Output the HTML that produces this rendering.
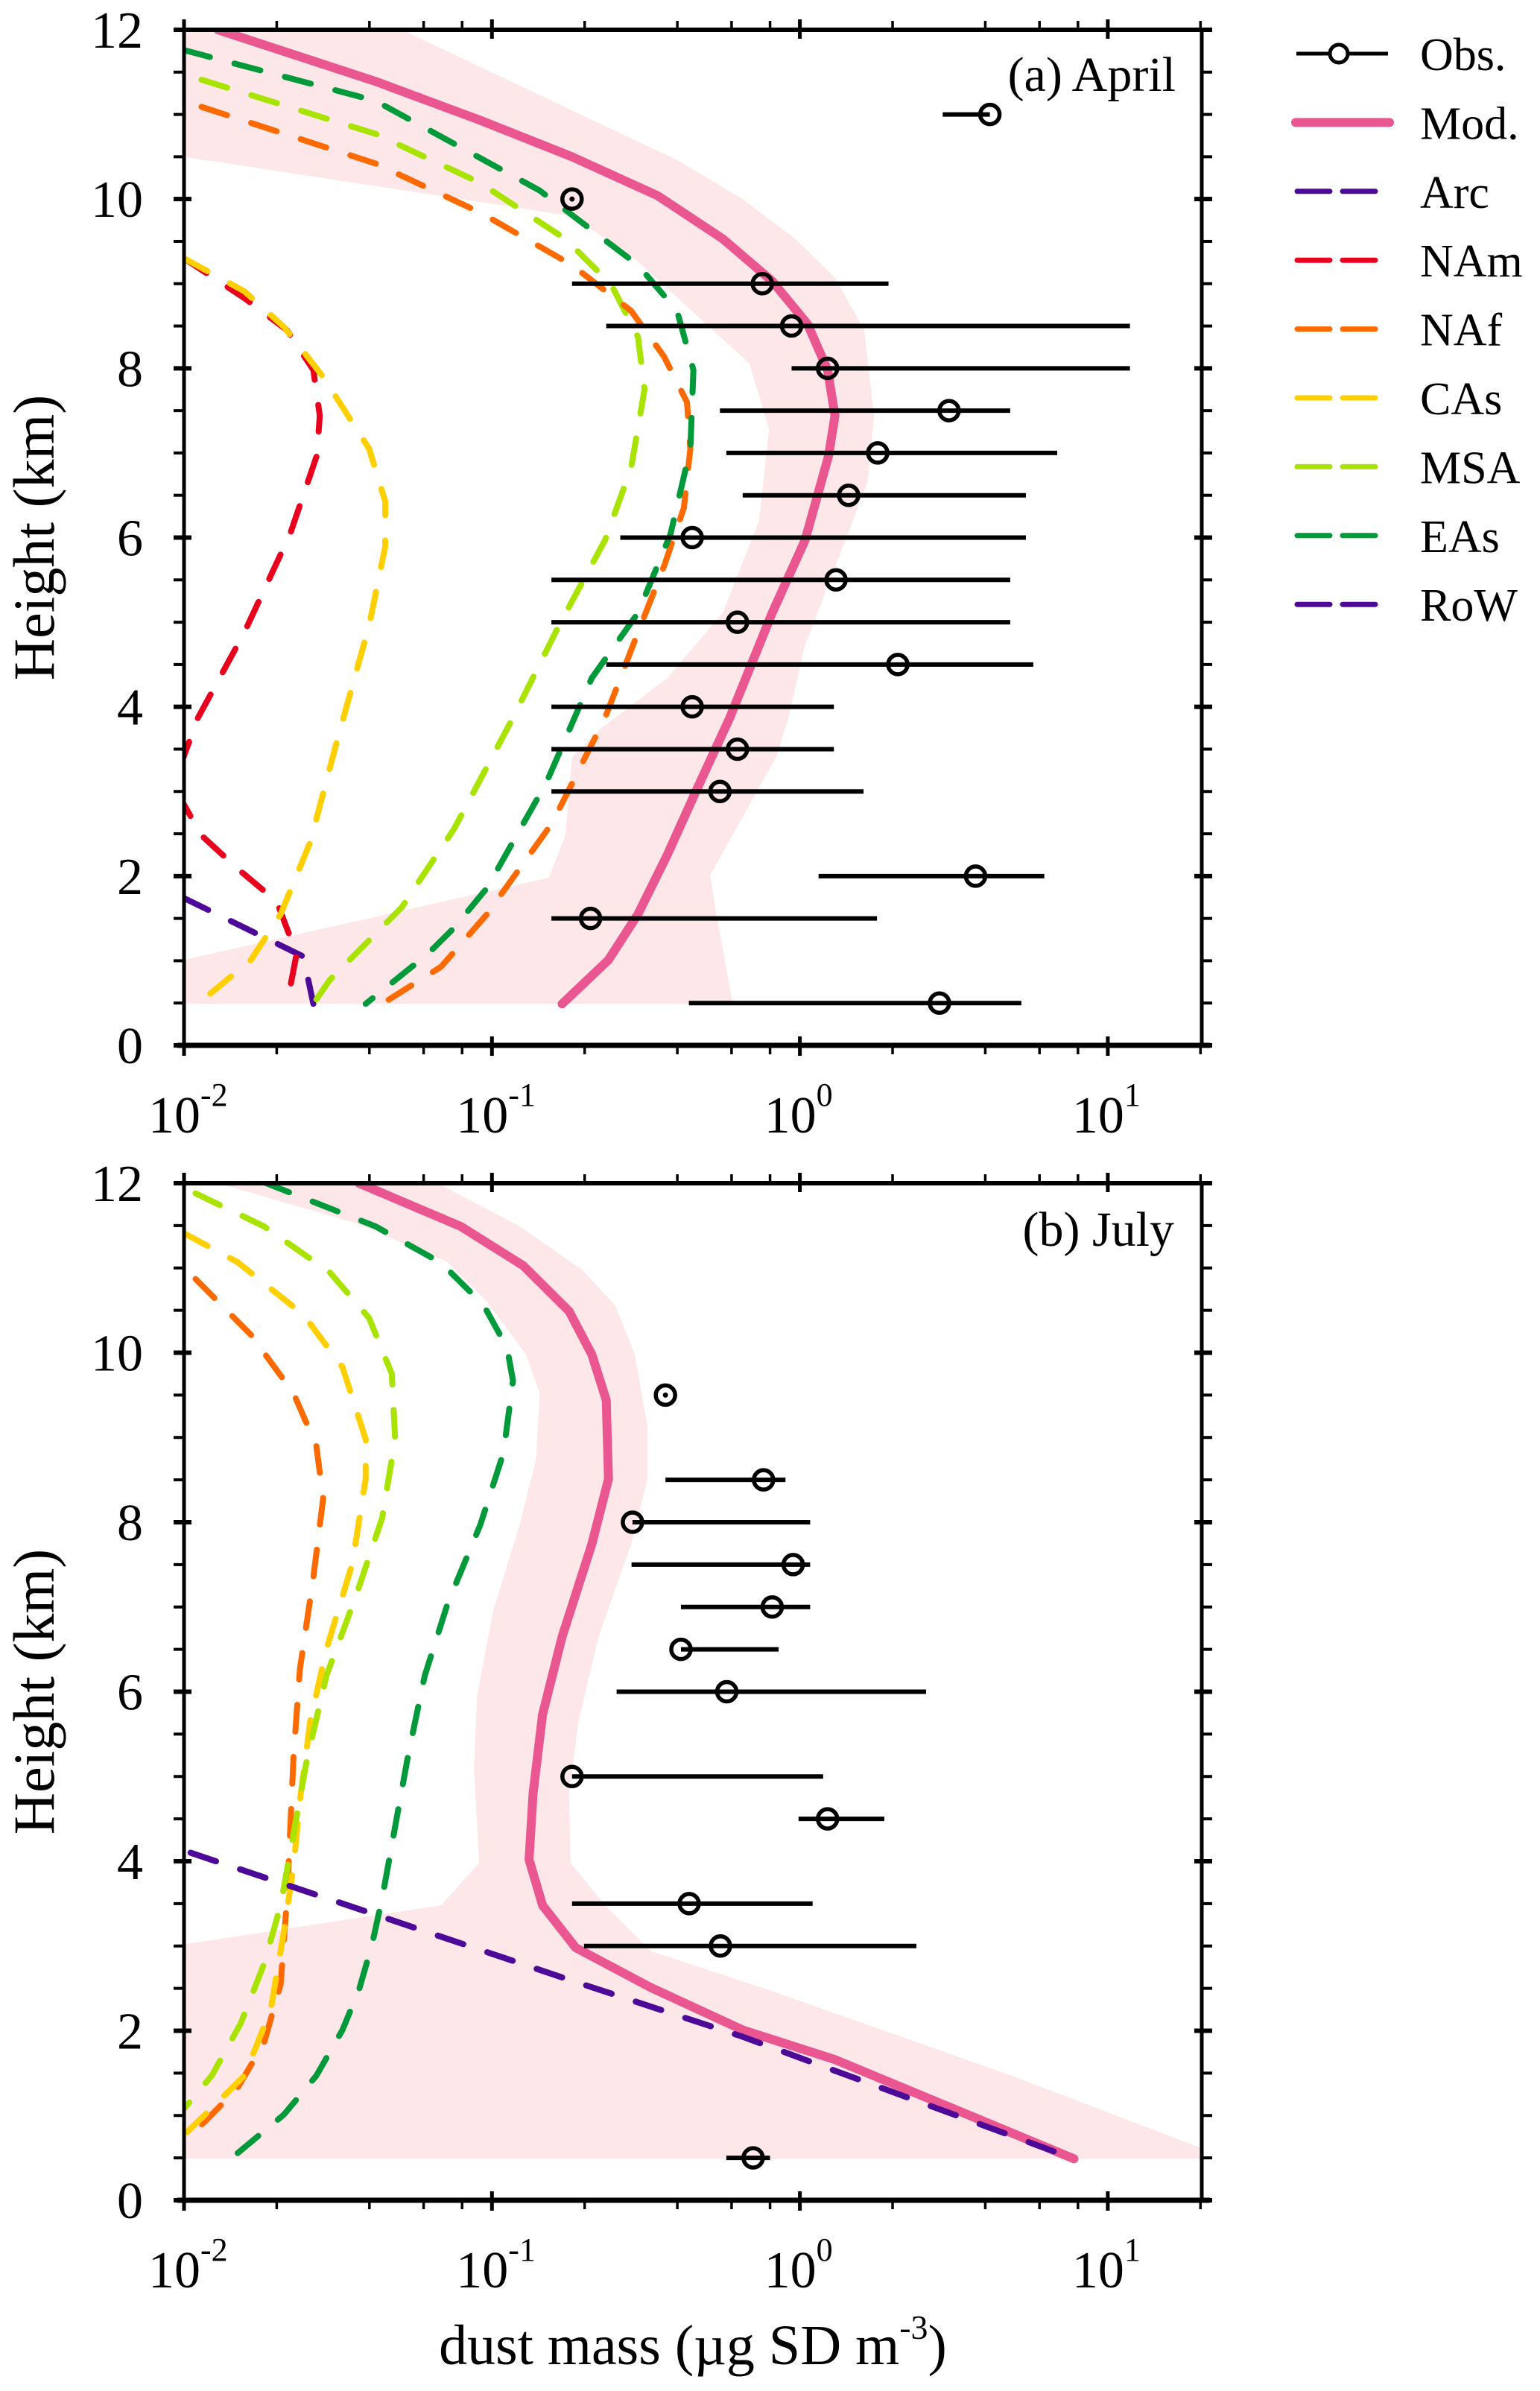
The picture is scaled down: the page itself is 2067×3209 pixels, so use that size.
<!DOCTYPE html>
<html><head><meta charset="utf-8"><style>
html,body{margin:0;padding:0;background:#fff}
svg{display:block}
text{font-family:"Liberation Serif",serif;fill:#000}
</style></head><body>
<svg id="chart" width="2067" height="3209" viewBox="0 0 2067 3209" xmlns="http://www.w3.org/2000/svg"></svg>
<script>
// ---------- Panel (a) April data ----------
const aModH=[12,11.39,10.93,10.5,10.04,9.53,9.03,8.52,7.98,7.44,6.97,5.97,5.11,3.87,3.02,2.25,1.55,1.01,0.49];
const aModV=[0.0129,0.0419,0.0917,0.182,0.345,0.562,0.813,1.06,1.23,1.30,1.24,1.04,0.813,0.592,0.462,0.371,0.298,0.239,0.169];
const aBandLoH=[12,10.5,9.8,9.26,8.06,7.28,6.2,5.11,4.34,3.72,3.4,2.48,1.98,1.01,0.49];
const aBandLoV=[0.01,0.01,0.182,0.298,0.685,0.794,0.737,0.562,0.371,0.222,0.182,0.173,0.153,0.01,0.01];
const aBandHiH=[12,10.46,10,9.53,9.07,8.45,7.44,6.66,6.04,4.73,3.87,3.41,2.56,2.01,1.55,0.49];
const aBandHiV=[0.0509,0.399,0.652,0.966,1.30,1.62,1.74,1.66,1.43,1.04,0.918,0.838,0.621,0.511,0.536,0.605];
const aArcH=[1.74,1.05,0.49];
const aArcV=[0.01,0.0244,0.0263];
const aNAmH=[9.3,8.83,8.45,7.98,7.44,6.97,6.04,4.88,3.87,3.2,2.9,2.48,2.09,1.7,1.08,0.49];
const aNAmV=[0.01,0.0157,0.0216,0.0263,0.0276,0.0270,0.0221,0.0157,0.0111,0.0095,0.0098,0.0114,0.0149,0.0200,0.0232,0.0216];
const aNAfH=[11.09,10.42,9.84,9.22,8.68,8.14,7.6,7.05,6.35,5.66,4.88,3.87,2.63,1.55,0.93,0.49];
const aNAfV=[0.0114,0.0419,0.0917,0.182,0.283,0.362,0.430,0.441,0.420,0.362,0.298,0.233,0.157,0.0964,0.0684,0.0440];
const aCAsH=[9.3,8.91,8.49,7.9,7.05,6.43,5.89,4.96,3.56,2.4,1.55,1.01,0.49];
const aCAsV=[0.01,0.0157,0.0211,0.0283,0.0399,0.0450,0.0450,0.0399,0.0312,0.0257,0.0206,0.0165,0.0111];
const aMSAH=[11.41,10.77,10.19,9.53,8.99,8.37,7.75,6.82,5.97,4.96,3.87,2.56,1.63,0.77,0.49];
const aMSAV=[0.0114,0.0419,0.0917,0.173,0.244,0.298,0.313,0.283,0.233,0.165,0.117,0.0754,0.0509,0.0297,0.0263];
const aEAsH=[11.76,11.16,10.1,9.22,8.68,7.98,7.05,6.04,5.11,4.34,3.1,1.86,1.39,1.08,0.49];
const aEAsV=[0.01,0.0419,0.143,0.298,0.399,0.451,0.441,0.380,0.298,0.211,0.150,0.0964,0.0754,0.0619,0.0389];
const aObsH=[11,10,9,8.5,8,7.5,7,6.5,6,5.5,5,4.5,4,3.5,3,2,1.5,0.5];
const aObsV=[4.14,0.182,0.755,0.94,1.23,3.05,1.79,1.44,0.447,1.31,0.627,2.08,0.447,0.627,0.55,3.72,0.209,2.84];
const aObsLo=[2.91,null,0.182,0.235,0.94,0.55,0.577,0.652,0.261,0.156,0.156,0.235,0.156,0.156,0.156,1.15,0.156,0.436];
const aObsHi=[4.14,null,1.94,11.8,11.8,4.82,6.85,5.42,5.42,4.82,4.82,5.73,1.29,1.29,1.61,6.22,1.78,5.24];

// ---------- Panel (b) July data ----------
const bModH=[12,11.49,11.03,10.49,9.98,9.44,8.51,7.74,6.65,5.73,4.8,4.02,3.48,2.98,2.51,2.01,1.66,0.49];
const bModV=[0.0370,0.0792,0.126,0.178,0.211,0.235,0.239,0.211,0.169,0.146,0.136,0.132,0.146,0.187,0.328,0.652,1.30,7.76];
const bBandLoH=[12,11.53,11.07,10.6,9.98,9.52,8.74,7.97,6.96,5.96,5.11,3.98,3.48,3.02,0.49];
const bBandLoV=[0.0129,0.0361,0.0718,0.0964,0.129,0.143,0.139,0.123,0.101,0.0895,0.0874,0.0908,0.0684,0.01,0.01];
const bBandHiH=[12,11.49,10.98,10.56,9.98,9.13,8.51,7.74,6.65,5.65,4.8,3.98,3.48,2.94,2.48,1.47,0.62,0.49];
const bBandHiV=[0.0667,0.123,0.196,0.251,0.291,0.320,0.320,0.283,0.222,0.191,0.178,0.180,0.233,0.328,0.794,4.87,20,20];
const bArcH=[4.1,3.37,2.59,1.93,0.49];
const bArcV=[0.0105,0.0419,0.182,0.652,7.76];
const bNAfH=[10.87,10.21,9.52,8.9,8.28,7.35,6.27,5.26,4.33,3.56,2.55,1.86,1.32,0.93,0.7];
const bNAfV=[0.0109,0.0165,0.0227,0.0269,0.0283,0.0263,0.0238,0.0227,0.0221,0.0216,0.0206,0.0182,0.0149,0.0117,0.01];
const bCAsH=[11.41,11.07,10.45,9.83,8.98,8.51,7.51,6.5,5.65,4.72,3.95,3.17,2.24,1.47,1.01,0.77];
const bCAsV=[0.01,0.0149,0.0244,0.0327,0.0389,0.0389,0.0352,0.0290,0.0257,0.0238,0.0227,0.0211,0.0191,0.0157,0.0117,0.01];
const bMSAH=[11.88,11.49,10.95,10.41,9.75,8.98,8.05,7.12,6.19,5.18,4.33,3.48,2.79,2.09,1.47,1.08];
const bMSAV=[0.0109,0.0182,0.0297,0.0399,0.0473,0.0485,0.0440,0.0361,0.0290,0.0250,0.0227,0.0206,0.0182,0.0153,0.0123,0.0100];
const bEAsH=[12.01,11.49,11.06,10.56,10.06,9.67,8.82,7.97,7.04,6.19,5.26,4.41,3.56,3.02,2.48,2.01,1.47,1.01,0.49];
const bEAsV=[0.0182,0.0419,0.0684,0.0940,0.112,0.117,0.109,0.0917,0.0718,0.0605,0.0535,0.0485,0.0440,0.0408,0.0370,0.0327,0.0269,0.0211,0.0142];
const bObsH=[9.5,8.5,8,7.5,7,6.5,6,5,4.5,3.5,3,0.5];
const bObsV=[0.366,0.762,0.286,0.951,0.813,0.411,0.579,0.182,1.23,0.437,0.552,0.705];
const bObsLo=[null,0.366,0.286,0.284,0.411,0.411,0.254,0.182,0.99,0.182,0.199,0.577];
const bObsHi=[null,0.898,1.08,1.08,1.08,0.853,2.57,1.19,1.88,1.10,2.39,0.80];

const xTickExp=[-2,-1,0,1];
const yTickLabels=[0,2,4,6,8,10,12];

const NS='http://www.w3.org/2000/svg';
const svg=document.getElementById('chart');
const X0=247, DEC=413.3, XR=1613;
function xs(v){return X0+(Math.log10(v)+2)*DEC;}
const panels=[
 {key:'a',top:40,bot:1403,title:'(a) April',tx:1578,ty:122},
 {key:'b',top:1588,bot:2953,title:'(b) July',tx:1576,ty:1672}
];
function mk(tag,attrs,parent){const e=document.createElementNS(NS,tag);for(const k in attrs)e.setAttribute(k,attrs[k]);(parent||svg).appendChild(e);return e;}
const COL={Arc:'#4d0a99',NAm:'#e8001c',NAf:'#ff6a00',CAs:'#ffcf00',MSA:'#a8e400',EAs:'#009a3a',RoW:'#4d0a99',Mod:'#ea5690',band:'#fde7e8'};

panels.forEach((p,pi)=>{
 const ys=h=>p.bot-h*(p.bot-p.top)/12;
 const g=mk('g',{});
 
 
 const cp=mk('clipPath',{id:'clip'+p.key},g);
 mk('rect',{x:X0,y:p.top,width:XR-X0,height:p.bot-p.top},cp);
 const plot=mk('g',{'clip-path':'url(#clip'+p.key+')'},g);
 const D=p.key==='a'?{
   band:[aBandLoH,aBandLoV,aBandHiH,aBandHiV],mod:[aModH,aModV],
   lines:[['Arc',aArcH,aArcV],['NAm',aNAmH,aNAmV],['CAs',aCAsH,aCAsV],['MSA',aMSAH,aMSAV],['NAf',aNAfH,aNAfV],['EAs',aEAsH,aEAsV]],
   obs:[aObsH,aObsV,aObsLo,aObsHi]}:{
   band:[bBandLoH,bBandLoV,bBandHiH,bBandHiV],mod:[bModH,bModV],
   lines:[['NAf',bNAfH,bNAfV],['CAs',bCAsH,bCAsV],['MSA',bMSAH,bMSAV],['EAs',bEAsH,bEAsV],['Arc',bArcH,bArcV]],
   obs:[bObsH,bObsV,bObsLo,bObsHi]};
 // band
 let pts=[];
 for(let i=0;i<D.band[0].length;i++)pts.push(xs(D.band[1][i]).toFixed(1)+','+ys(D.band[0][i]).toFixed(1));
 for(let i=D.band[2].length-1;i>=0;i--)pts.push(xs(D.band[3][i]).toFixed(1)+','+ys(D.band[2][i]).toFixed(1));
 const band=mk('polygon',{points:pts.join(' '),fill:COL.band},plot);
 
 
 // dashed source lines
 D.lines.forEach(([nm,H,V])=>{
   const d=H.map((h,i)=>(i?'L':'M')+xs(V[i]).toFixed(1)+','+ys(h).toFixed(1)).join('');
   const e=mk('path',{d:d,fill:'none',stroke:COL[nm],'stroke-width':8,'stroke-dasharray':'36 34','stroke-linecap':'round','stroke-linejoin':'round'},plot);
   
   
 });
 // model line
 const md=D.mod[0].map((h,i)=>(i?'L':'M')+xs(D.mod[1][i]).toFixed(1)+','+ys(h).toFixed(1)).join('');
 const ml=mk('path',{d:md,fill:'none',stroke:COL.Mod,'stroke-width':12,'stroke-linecap':'round','stroke-linejoin':'round'},plot);
 
 
 if(p.key==='b'){ // Arc drawn over model in lower part
   const e=mk('path',{d:bArcH.map((h,i)=>(i?'L':'M')+xs(bArcV[i]).toFixed(1)+','+ys(h).toFixed(1)).join(''),fill:'none',stroke:COL.Arc,'stroke-width':8,'stroke-dasharray':'36 34','stroke-linecap':'round'},plot);
   
   
 }
 // observations
 const [OH,OV,OL,OU]=D.obs;
 OH.forEach((h,i)=>{
   const og=mk('g',{},plot);
   
   
   const y=ys(h);
   if(OL[i]!==null){
     mk('line',{x1:xs(OL[i]),x2:xs(OU[i]),y1:y,y2:y,stroke:'#000','stroke-width':6},og);
     mk('circle',{cx:xs(OV[i]),cy:y,r:13,fill:'none',stroke:'#000','stroke-width':5.5},og);
   } else {
     mk('circle',{cx:xs(OV[i]),cy:y,r:13,fill:'none',stroke:'#000','stroke-width':5.5},og);
     mk('circle',{cx:xs(OV[i]),cy:y,r:3.5,fill:'#000'},og);
   }
 });
 // axes frame
 const ax=mk('g',{},g);
 
 
 mk('rect',{x:X0,y:p.top,width:XR-X0,height:p.bot-p.top,fill:'none',stroke:'#000','stroke-width':5},ax);
 mk('line',{x1:X0-8,x2:XR+10,y1:p.bot,y2:p.bot,stroke:'#000','stroke-width':7,'stroke-linecap':'round'},ax);
 mk('line',{x1:X0-8,x2:XR+10,y1:p.top,y2:p.top,stroke:'#000','stroke-width':6,'stroke-linecap':'round'},ax);
 // x ticks
 for(let e=-2;e<=1;e++){
   [1,2,4,6,8].forEach(m=>{
     const v=m*Math.pow(10,e); if(v>20)return;
     const x=xs(v); const maj=m===1;
     mk('line',{x1:x,x2:x,y1:p.bot+(maj?14:12),y2:p.bot-(maj?12:0),stroke:'#000','stroke-width':maj?5:3.5},ax);
     mk('line',{x1:x,x2:x,y1:p.top-(maj?14:12),y2:p.top+(maj?12:0),stroke:'#000','stroke-width':maj?5:3.5},ax);
   });
 }
 // y ticks
 for(let k=0;k<=24;k++){
   const h=k*0.5,y=ys(h),maj=k%4===0;
   mk('line',{x1:X0-14,x2:X0+(maj?10:0),y1:y,y2:y,stroke:'#000','stroke-width':maj?6:4},ax);
   mk('line',{x1:XR+14,x2:XR-(maj?10:0),y1:y,y2:y,stroke:'#000','stroke-width':maj?6:4},ax);
 }
 yTickLabels.forEach(t=>{
   const tx=mk('text',{x:192,y:ys(t)+24,'font-size':70,'text-anchor':'end'},g);
   tx.textContent=t;
   
   
 });
 xTickExp.forEach(e=>{
   const x=xs(Math.pow(10,e));
   const tx=mk('text',{x:x-48,y:p.bot+117,'font-size':70},g);
   
   
   tx.appendChild(document.createTextNode('10'));
   const sp=mk('tspan',{dy:-36,'font-size':44},tx); sp.textContent=String(e);
 });
 const yt=mk('text',{x:0,y:0,'font-size':78,'text-anchor':'middle',transform:'translate(72,'+((p.top+p.bot)/2)+') rotate(-90)'},g);
 yt.textContent='Height (km)';
 
 
 const tt=mk('text',{x:p.tx,y:p.ty,'font-size':66,'text-anchor':'end'},g);
 tt.textContent=p.title;
 
 
});

// x axis title
const xt=mk('text',{x:930,y:3173,'font-size':76,'text-anchor':'middle'});


xt.appendChild(document.createTextNode('dust mass (\u00b5g SD m'));
const xs1=mk('tspan',{dy:-34,'font-size':46},xt); xs1.textContent='-3';
const xs2=mk('tspan',{dy:34},xt); xs2.textContent=')';

// legend
const legNames=['Obs.','Mod.','Arc','NAm','NAf','CAs','MSA','EAs','RoW'];
const legKeys=['Obs','Mod','Arc','NAm','NAf','CAs','MSA','EAs','RoW'];
const lg=mk('g',{});


legNames.forEach((n,i)=>{
 const y=72+i*92.4;
 const eg=mk('g',{},lg);
 
 
 if(i===0){
   mk('line',{x1:1740,x2:1863,y1:y,y2:y,stroke:'#000','stroke-width':5},eg);
   mk('circle',{cx:1797,cy:y,r:12,fill:'#fff',stroke:'#000','stroke-width':5},eg);
 } else if(i===1){
   mk('line',{x1:1739,x2:1865,y1:y,y2:y,stroke:COL.Mod,'stroke-width':12,'stroke-linecap':'round'},eg);
 } else {
   mk('line',{x1:1741,x2:1785,y1:y,y2:y,stroke:COL[legKeys[i]],'stroke-width':7,'stroke-linecap':'round'},eg);
   mk('line',{x1:1802,x2:1846,y1:y,y2:y,stroke:COL[legKeys[i]],'stroke-width':7,'stroke-linecap':'round'},eg);
 }
 const t=mk('text',{x:1906,y:y+22,'font-size':62},eg);
 t.textContent=n;
});
</script>
</body></html>
